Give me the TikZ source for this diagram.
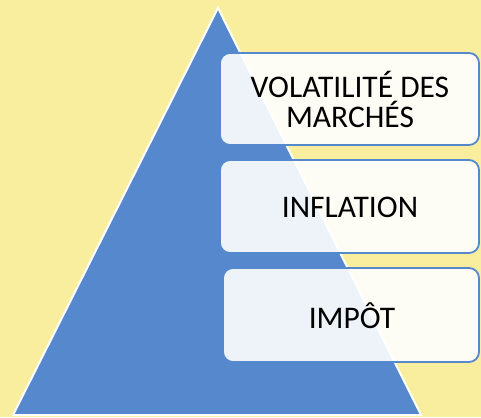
\documentclass[tikz,border=0pt]{standalone}
\usepackage{fontspec}
\setmainfont{Carlito}
\definecolor{bgyellow}{RGB}{248,238,158}
\definecolor{pyrblue}{RGB}{85,136,204}
\tikzset{
  layerbox/.style={draw=pyrblue, line width=1.8pt, rounded corners=10pt,
    fill=white, fill opacity=0.9, text opacity=1, text=black,
    font=\fontsize{31.5}{30}\selectfont, align=center, inner sep=0pt}
}
\begin{document}
\begin{tikzpicture}[x=1pt,y=-1pt]
\useasboundingbox (0,0) rectangle (481,417);
\fill[bgyellow] (0,0) rectangle (481,417);
\coordinate (apex) at (218,8);
\coordinate (bl) at (13,415);
\coordinate (br) at (421,415);
\filldraw[fill=pyrblue, draw=white, line width=2pt, line join=miter] (apex) -- (br) -- (bl) -- cycle;
\path[layerbox] (220,53) rectangle (479,145);
\node[layerbox, draw=none, fill=none] (t1) at (350,99) {VOLATILITÉ DES\\MARCHÉS};
\path[layerbox] (220,160) rectangle (479,253);
\node[layerbox, draw=none, fill=none] (t2) at (350,207) {INFLATION};
\path[layerbox] (223,268) rectangle (479,362);
\node[layerbox, draw=none, fill=none] (t3) at (352,316) {IMPÔT};
\end{tikzpicture}
\end{document}
